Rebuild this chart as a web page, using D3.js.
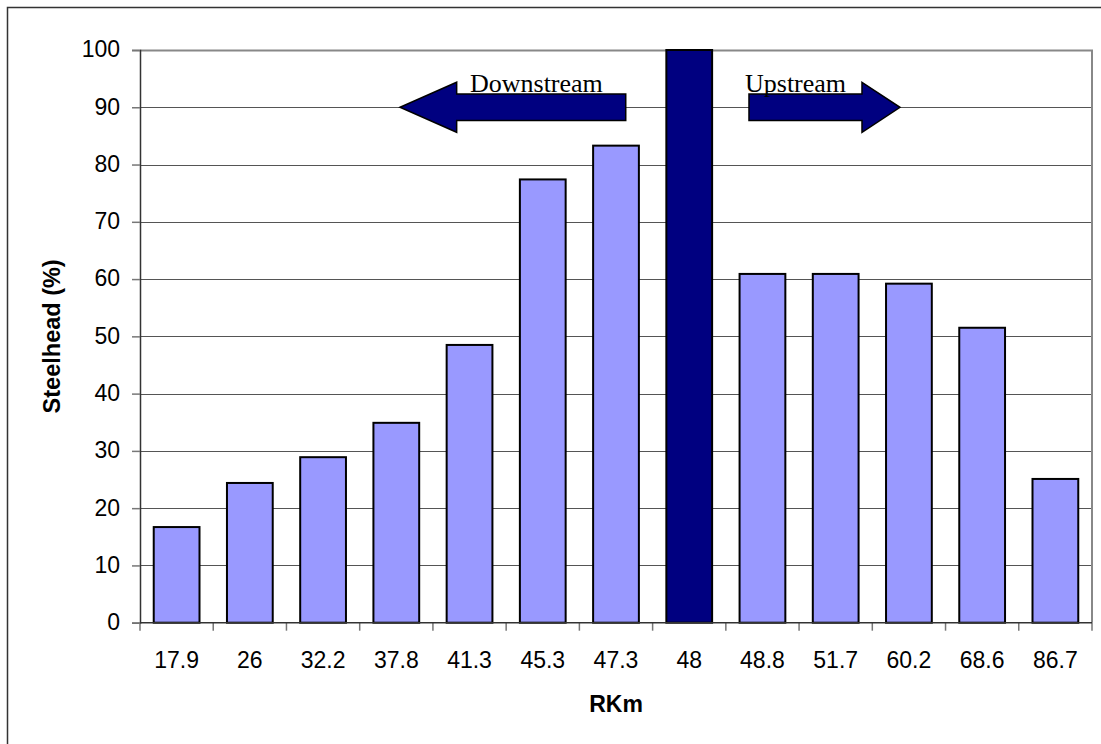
<!DOCTYPE html>
<html>
<head>
<meta charset="utf-8">
<script src="https://cdn.jsdelivr.net/npm/d3@7"></script>
<style>
  html, body { margin: 0; padding: 0; background: #fff; }
  svg { display: block; }
</style>
</head>
<body>
<div id="chart"></div>
<script>
// ---- data ----
const categories = ["17.9","26","32.2","37.8","41.3","45.3","47.3","48","48.8","51.7","60.2","68.6","86.7"];
const steelheadPct = [16.7, 24.4, 28.9, 34.9, 48.5, 77.4, 83.3, 100, 60.9, 60.9, 59.2, 51.5, 25.1];
const highlightCategory = "48";
const yTicks = [0,10,20,30,40,50,60,70,80,90,100];
const yLabel = "Steelhead (%)";
const xLabel = "RKm";

// ---- layout ----
const W = 1101, H = 744;
const margin = { left: 140, right: 9, top: 50, bottom: 121.3 };
const plotW = W - margin.left - margin.right;   // 952
const plotH = H - margin.top - margin.bottom;   // ~572.7

const svg = d3.select("#chart").append("svg")
  .attr("width", W).attr("height", H);

svg.append("rect").attr("width", W).attr("height", H).attr("fill", "#fff");

// outer chart border (left & top visible)
svg.append("path")
  .attr("d", `M7.5,${H + 2} V7.5 H${W + 2}`)
  .attr("fill", "none").attr("stroke", "#333").attr("stroke-width", 1.5);

const g = svg.append("g").attr("transform", `translate(${margin.left},${margin.top})`);

const x = d3.scaleBand().domain(categories).range([0, plotW])
  .paddingInner(0.375).paddingOuter(0.1875);
const y = d3.scaleLinear().domain([0, 100]).range([plotH, 0]);

// gridlines
g.append("g").selectAll("line").data(yTicks.filter(d => d > 0)).join("line")
  .attr("x1", 0).attr("x2", plotW)
  .attr("y1", d => Math.round(y(d)) + 0.5).attr("y2", d => Math.round(y(d)) + 0.5)
  .attr("stroke", "#555").attr("stroke-width", 1);

// plot area border top/right
g.append("path")
  .attr("d", `M0,${Math.round(y(100)) + 0.5} H${plotW} V${plotH}`)
  .attr("fill", "none").attr("stroke", "#888").attr("stroke-width", 2);

// bars
const data = categories.map((c, i) => ({ cat: c, val: steelheadPct[i] }));
g.append("g").selectAll("rect").data(data).join("rect")
  .attr("x", d => x(d.cat))
  .attr("y", d => y(d.val))
  .attr("width", x.bandwidth())
  .attr("height", d => y(0) - y(d.val))
  .attr("fill", d => d.cat === highlightCategory ? "#000080" : "#9999FF")
  .attr("stroke", "#000").attr("stroke-width", 2);

// y axis
const yAxis = g.append("g").call(
  d3.axisLeft(y).tickValues(yTicks).tickSize(8).tickPadding(12).tickFormat(d3.format("d"))
);
yAxis.select(".domain").attr("stroke", "#333").attr("stroke-width", 1.5);
yAxis.selectAll(".tick line").attr("stroke", "#777").attr("stroke-width", 1.5);
yAxis.selectAll(".tick text")
  .attr("font-family", "'Liberation Sans', Arial, sans-serif")
  .attr("font-size", 23).attr("fill", "#000").attr("dy", "0.3em");

// x axis: boundary ticks + centered labels
const xAxisG = g.append("g").attr("transform", `translate(0,${plotH})`);
const bounds = d3.range(categories.length + 1).map(i => i * x.step());
xAxisG.selectAll("line.bt").data(bounds).join("line").attr("class", "bt")
  .attr("x1", d => d).attr("x2", d => d).attr("y1", 0).attr("y2", 8)
  .attr("stroke", "#777").attr("stroke-width", 1.5);
xAxisG.append("line").attr("x1", 0).attr("x2", plotW).attr("y1", 0).attr("y2", 0)
  .attr("stroke", "#333").attr("stroke-width", 1.5);
xAxisG.selectAll("text").data(categories).join("text")
  .attr("x", d => x(d) + x.bandwidth() / 2)
  .attr("y", 45)
  .attr("text-anchor", "middle")
  .attr("font-family", "'Liberation Sans', Arial, sans-serif")
  .attr("font-size", 23).attr("fill", "#000")
  .text(d => d);

// axis titles
svg.append("text")
  .attr("x", margin.left + plotW / 2).attr("y", 712)
  .attr("text-anchor", "middle")
  .attr("font-family", "'Liberation Sans', Arial, sans-serif")
  .attr("font-weight", "bold").attr("font-size", 23)
  .text(xLabel);

svg.append("text")
  .attr("transform", `translate(59.5,${margin.top + plotH / 2}) rotate(-90)`)
  .attr("text-anchor", "middle")
  .attr("font-family", "'Liberation Sans', Arial, sans-serif")
  .attr("font-weight", "bold").attr("font-size", 23.5)
  .text(yLabel);

// ---- direction arrows (annotation, positioned in band-step units at y = 90) ----
const arrowLevel = 90;
const annotations = [
  { label: "Downstream", tail: 6.633, tip: 3.55, head: 56.7, textOffset: 70 },
  { label: "Upstream",   tail: 8.316, tip: 10.378, head: 38, textOffset: -4 }
];
const shaftHalf = 13.3, headHalf = 25;
annotations.forEach(a => {
  const xt = a.tail * x.step(), xp = a.tip * x.step();
  const dir = Math.sign(xp - xt);
  const xb = xp - dir * a.head;
  const yc = y(arrowLevel);
  const pts = [
    [xt, yc - shaftHalf], [xb, yc - shaftHalf], [xb, yc - headHalf], [xp, yc],
    [xb, yc + headHalf], [xb, yc + shaftHalf], [xt, yc + shaftHalf]
  ];
  g.append("path")
    .attr("d", d3.line()(pts) + "Z")
    .attr("fill", "#000080").attr("stroke", "#000").attr("stroke-width", 1.5)
    .attr("stroke-linejoin", "miter");
  const textX = dir < 0 ? xp + a.textOffset : xt + a.textOffset;
  g.append("text")
    .attr("x", textX).attr("y", yc - 15.4)
    .attr("font-family", "'Liberation Serif', 'Times New Roman', serif")
    .attr("font-size", 26).attr("fill", "#000")
    .text(a.label);
});
</script>
</body>
</html>
